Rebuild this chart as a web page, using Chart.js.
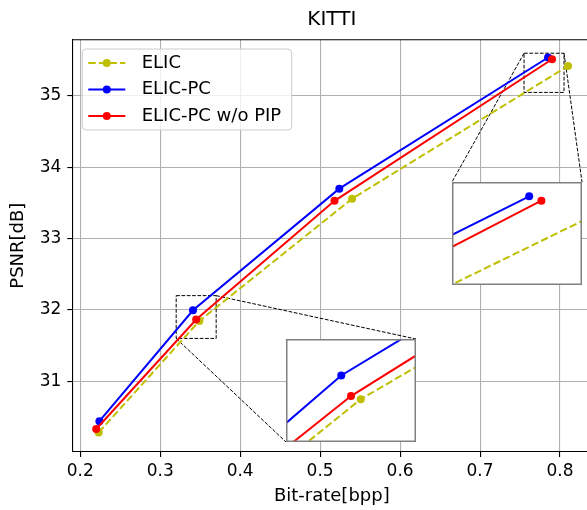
<!DOCTYPE html>
<html><head><meta charset="utf-8">
<script src="https://cdn.jsdelivr.net/npm/chart.js@4/dist/chart.umd.min.js"></script>
<style>
html,body{margin:0;padding:0;overflow:hidden;background:#fff;width:587px;height:510px;}
#wrap{position:relative;width:600px;height:510px;}
#main{position:absolute;left:0;top:0;}
.inset{position:absolute;}
</style></head><body>
<div id="wrap"><canvas id="main" width="600" height="510"></canvas>
<canvas id="in1" class="inset"></canvas><canvas id="in2" class="inset"></canvas></div>
<script>
// ---- data ----
const chartTitle = 'KITTI';
const xAxisTitle = 'Bit-rate[bpp]';
const yAxisTitle = 'PSNR[dB]';
const seriesNames = ['ELIC', 'ELIC-PC', 'ELIC-PC w/o PIP'];
const elicRate = [0.223, 0.349, 0.540, 0.810];
const elicPsnr = [30.28, 31.845, 33.56, 35.42];
const pcRate = [0.224, 0.341, 0.524, 0.785];
const pcPsnr = [30.44, 31.995, 33.70, 35.54];
const noPipRate = [0.220, 0.345, 0.518, 0.790];
const noPipPsnr = [30.33, 31.865, 33.53, 35.515];
const xTickValues = [0.2, 0.3, 0.4, 0.5, 0.6, 0.7, 0.8];
const xTickLabels = ['0.2', '0.3', '0.4', '0.5', '0.6', '0.7', '0.8'];
const yTickValues = [31, 32, 33, 34, 35];
const yTickLabels = ['31', '32', '33', '34', '35'];
const xRange = [0.1901, 0.8391];
const yRange = [30.007, 35.795];
const zoom1X = [0.32, 0.37], zoom1Y = [31.6, 32.2];
const zoom2X = [0.755, 0.805], zoom2Y = [35.05, 35.6];

// ---- styling / layout ----
const FONT = 'DejaVu Sans';
const colors = ['#bfbf00', '#0000ff', '#ff0000'];
const dashes = [[7.4, 3.2], [], []];
const AX = {left: 72.3, top: 39.3, right: 591.3, bottom: 452};
const CW = 600, CH = 510;
const inset1Frac = {x: 0.411, y: 0.025, w: 0.251, h: 0.249};
const inset2Frac = {x: 0.7316, y: 0.404, w: 0.2505, h: 0.2496};

function makeDatasets() {
  const rates = [elicRate, pcRate, noPipRate];
  const psnrs = [elicPsnr, pcPsnr, noPipPsnr];
  return seriesNames.map((name, k) => ({
    label: name,
    data: rates[k].map((x, i) => ({x: x, y: psnrs[k][i]})),
    borderColor: colors[k], backgroundColor: colors[k],
    pointBackgroundColor: colors[k], pointBorderColor: colors[k],
    borderDash: dashes[k], borderWidth: 2,
    pointRadius: 4, pointHoverRadius: 4, pointBorderWidth: 0,
    showLine: true, fill: false, tension: 0,
    order: 2 - k
  }));
}

function insetBox(ca, f) {
  const w = ca.right - ca.left, h = ca.bottom - ca.top;
  const left = Math.round(ca.left + f.x * w);
  const top = Math.round(ca.bottom - (f.y + f.h) * h);
  const width = Math.round(f.w * w), height = Math.round(f.h * h);
  return {left, top, width, height, right: left + width, bottom: top + height};
}

const markPlugin = {
  id: 'mark',
  beforeDraw(chart) {
    const c = chart.ctx; c.save(); c.fillStyle = '#fff'; c.fillRect(0, 0, chart.width, chart.height); c.restore();
  },
  beforeDatasetsDraw(chart) {
    const c = chart.ctx, xs = chart.scales.x, ys = chart.scales.y, ca = chart.chartArea;
    c.save();
    c.strokeStyle = '#000'; c.lineWidth = 1; c.setLineDash([3.7, 1.6]);
    const specs = [
      {X: zoom1X, Y: zoom1Y, f: inset1Frac, pairs: [['r', 't'], ['l', 'b']]},
      {X: zoom2X, Y: zoom2Y, f: inset2Frac, pairs: [['l', 't'], ['r', 't']]}
    ];
    specs.forEach(s => {
      const rl = xs.getPixelForValue(s.X[0]), rr = xs.getPixelForValue(s.X[1]);
      const rt = ys.getPixelForValue(s.Y[1]), rb = ys.getPixelForValue(s.Y[0]);
      c.strokeRect(rl, rt, rr - rl, rb - rt);
      const b = insetBox(ca, s.f);
      s.pairs.forEach(p => {
        const sx = p[0] === 'l' ? rl : rr, sy = p[1] === 't' ? rt : rb;
        const dx = p[0] === 'l' ? b.left : b.right, dy = p[1] === 't' ? b.top : b.bottom;
        c.beginPath(); c.moveTo(sx, sy); c.lineTo(dx, dy); c.stroke();
      });
    });
    c.restore();
  },
  afterDraw(chart) {
    const c = chart.ctx, ca = chart.chartArea;
    c.save();
    // top spine
    c.strokeStyle = '#000'; c.lineWidth = 1.1;
    c.beginPath(); c.moveTo(ca.left, ca.top + 0.5); c.lineTo(ca.right, ca.top + 0.5); c.stroke();
    // title
    c.fillStyle = '#000'; c.font = '20px "' + FONT + '"';
    c.textAlign = 'center'; c.textBaseline = 'middle';
    c.fillText(chartTitle, (ca.left + ca.right) / 2, 20);
    // legend
    const lx = ca.left + 10, ly = ca.top + 9.7, lw = 209.4, lh = 81;
    c.beginPath();
    c.roundRect(lx, ly, lw, lh, 4);
    c.fillStyle = 'rgba(255,255,255,0.8)'; c.fill();
    c.strokeStyle = '#cccccc'; c.lineWidth = 1; c.stroke();
    chart.data.datasets.forEach((d, i) => {
      const y = ly + 14 + i * 26.5;
      c.strokeStyle = d.borderColor; c.lineWidth = 2; c.setLineDash(d.borderDash || []);
      c.beginPath(); c.moveTo(lx + 6, y); c.lineTo(lx + 43, y); c.stroke();
      c.setLineDash([]);
      c.fillStyle = d.borderColor; c.beginPath(); c.arc(lx + 24.5, y, 4, 0, Math.PI * 2); c.fill();
      c.fillStyle = '#000'; c.font = '18px "' + FONT + '"'; c.textAlign = 'left'; c.textBaseline = 'middle';
      c.fillText(d.label, lx + 59.4, y);
    });
    c.restore();
  }
};

const mainChart = new Chart(document.getElementById('main'), {
  type: 'scatter',
  data: {datasets: makeDatasets()},
  plugins: [markPlugin],
  options: {
    responsive: false, animation: false, devicePixelRatio: 1,
    layout: {padding: {left: 0, top: AX.top, right: CW - AX.right, bottom: 0}},
    plugins: {legend: {display: false}, tooltip: {enabled: false}, title: {display: false}},
    scales: {
      x: {
        type: 'linear', min: xRange[0], max: xRange[1],
        afterBuildTicks: s => { s.ticks = xTickValues.map(v => ({value: v})); },
        afterFit: s => { s.height = CH - AX.bottom; },
        ticks: {callback: v => xTickLabels[xTickValues.indexOf(v)], font: {family: FONT, size: 17}, color: '#000', padding: 4, maxRotation: 0, autoSkip: false},
        grid: {color: '#b0b0b0', lineWidth: 1.1, tickColor: '#000', tickWidth: 1.1, tickLength: 5, drawTicks: true},
        border: {color: '#000', width: 1.1},
        title: {display: true, text: xAxisTitle, font: {family: FONT, size: 18}, color: '#000', padding: {top: 0, bottom: 3}}
      },
      y: {
        type: 'linear', min: yRange[0], max: yRange[1],
        afterBuildTicks: s => { s.ticks = yTickValues.map(v => ({value: v})); },
        afterFit: s => { s.width = AX.left; },
        ticks: {callback: v => yTickLabels[yTickValues.indexOf(v)], font: {family: FONT, size: 17}, color: '#000', padding: 6, autoSkip: false},
        grid: {color: '#b0b0b0', lineWidth: 1.1, tickColor: '#000', tickWidth: 1.1, tickLength: 5, drawTicks: true},
        border: {color: '#000', width: 1.1},
        title: {display: true, text: yAxisTitle, font: {family: FONT, size: 18}, color: '#000', padding: {top: 7.5, bottom: 0}}
      }
    }
  }
});

const framePlugin = {
  id: 'frame',
  beforeDraw(chart) {
    const c = chart.ctx; c.save(); c.fillStyle = '#fff'; c.fillRect(0, 0, chart.width, chart.height); c.restore();
  },
  afterDraw(chart) {
    const c = chart.ctx; c.save();
    c.strokeStyle = '#808080'; c.lineWidth = 1.5;
    c.strokeRect(0.75, 0.75, chart.width - 1.5, chart.height - 1.5);
    c.restore();
  }
};

function makeInset(id, xr, yr, frac) {
  const b = insetBox(mainChart.chartArea, frac);
  const cv = document.getElementById(id);
  cv.width = b.width; cv.height = b.height;
  cv.style.left = b.left + 'px'; cv.style.top = b.top + 'px';
  cv.style.width = b.width + 'px'; cv.style.height = b.height + 'px';
  return new Chart(cv, {
    type: 'scatter',
    data: {datasets: makeDatasets().map(d => Object.assign(d, {clip: false}))},
    plugins: [framePlugin],
    options: {
      responsive: false, animation: false, devicePixelRatio: 1,
      layout: {padding: 0},
      plugins: {legend: {display: false}, tooltip: {enabled: false}},
      scales: {
        x: {type: 'linear', min: xr[0], max: xr[1], display: false},
        y: {type: 'linear', min: yr[0], max: yr[1], display: false}
      }
    }
  });
}
makeInset('in1', zoom1X, zoom1Y, inset1Frac);
makeInset('in2', zoom2X, zoom2Y, inset2Frac);
</script>
</body></html>
